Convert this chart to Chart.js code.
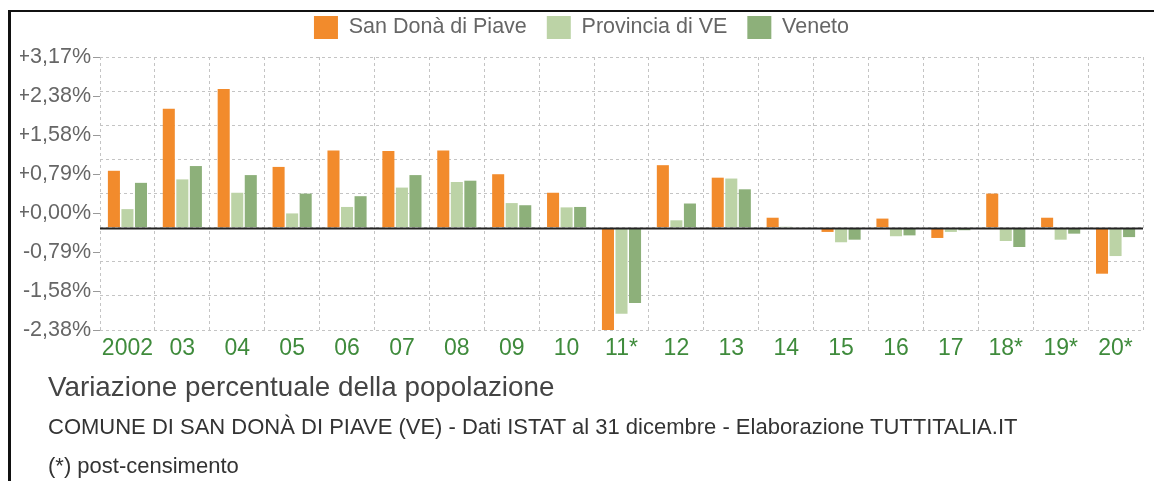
<!DOCTYPE html>
<html>
<head>
<meta charset="utf-8">
<script src="https://cdn.jsdelivr.net/npm/chart.js@4/dist/chart.umd.min.js"></script>
<style>
  body { margin: 0; background: #fff; font-family: "Liberation Sans", Arial, sans-serif; }
  #wrap { position: relative; width: 1154px; height: 481px; overflow: hidden; }
  #grafico { position: absolute; left: 0; top: 0; }
  .frame { position: absolute; left: 8px; top: 10px; width: 1200px; height: 500px;
           border-top: 2px solid #111; border-left: 3px solid #111; pointer-events: none; }
  .txt { position: absolute; left: 48px; white-space: nowrap; line-height: 1; }
  #titolo { top: 373px; font-size: 27.8px; color: #444; }
  #sottotitolo { top: 416px; font-size: 22px; color: #333; }
  #nota { top: 455px; font-size: 22px; color: #333; }
</style>
</head>
<body>
<div id="wrap">
  <canvas id="grafico" width="1154" height="365"></canvas>
  <div class="frame"></div>
  <div class="txt" id="titolo">Variazione percentuale della popolazione</div>
  <div class="txt" id="sottotitolo">COMUNE DI SAN DONÀ DI PIAVE (VE) - Dati ISTAT al 31 dicembre - Elaborazione TUTTITALIA.IT</div>
  <div class="txt" id="nota">(*) post-censimento</div>
</div>
<script>
const anni = ['2002', '03', '04', '05', '06', '07', '08', '09', '10', '11*',
              '12', '13', '14', '15', '16', '17', '18*', '19*', '20*'];
const sanDona = [1.32, 2.76, 3.22, 1.41, 1.79, 1.78, 1.79, 1.24, 0.81, -2.50,
                 1.45, 1.16, 0.23, -0.10, 0.21, -0.24, 0.79, 0.23, -1.07];
const provinciaVE = [0.43, 1.12, 0.81, 0.33, 0.48, 0.93, 1.06, 0.57, 0.47, -2.00,
                     0.17, 1.14, 0.02, -0.34, -0.20, -0.10, -0.31, -0.28, -0.66];
const veneto = [1.04, 1.43, 1.22, 0.79, 0.73, 1.22, 1.09, 0.52, 0.48, -1.75,
                0.56, 0.89, 0.00, -0.28, -0.18, -0.06, -0.45, -0.14, -0.22];
const yTickLabels = ['+3,17%', '+2,38%', '+1,58%', '+0,79%', '+0,00%', '-0,79%', '-1,58%', '-2,38%'];
const passo = 0.7925;

const font = 'Liberation Sans, Arial, sans-serif';

// linea dello zero nera
const lineaZero = {
    id: 'lineaZero',
    afterDatasetsDraw(chart) {
        const ctx = chart.ctx;
        const area = chart.chartArea;
        const y = Math.round(chart.scales.y.getPixelForValue(0)) + 0.5;
        ctx.save();
        ctx.strokeStyle = '#222';
        ctx.lineWidth = 2;
        ctx.beginPath();
        ctx.moveTo(area.left, y);
        ctx.lineTo(area.right, y);
        ctx.stroke();
        ctx.restore();
    }
};

// spazio extra sotto la legenda
const spazioLegenda = {
    id: 'spazioLegenda',
    beforeInit(chart) {
        const fit = chart.legend.fit;
        chart.legend.fit = function () {
            fit.bind(chart.legend)();
            this.height += 8;
        };
    }
};

const grafico = document.getElementById('grafico');

new Chart(grafico, {
    type: 'bar',
    data: {
        labels: anni,
        datasets: [{
            label: 'San Donà di Piave',
            data: sanDona,
            backgroundColor: '#f28b2c'
        }, {
            label: 'Provincia di VE',
            data: provinciaVE,
            backgroundColor: '#bcd3a6'
        }, {
            label: 'Veneto',
            data: veneto,
            backgroundColor: '#8db07a'
        }]
    },
    options: {
        responsive: false,
        animation: false,
        layout: {
            padding: { left: 20, right: 11, top: -4, bottom: 0 }
        },
        datasets: {
            bar: {
                categoryPercentage: 0.74,
                barPercentage: 0.89
            }
        },
        plugins: {
            legend: {
                position: 'top',
                labels: {
                    boxWidth: 24,
                    boxHeight: 23,
                    padding: 20,
                    color: '#666',
                    font: { family: font, size: 21.5 }
                }
            },
            tooltip: { enabled: false }
        },
        scales: {
            x: {
                grid: {
                    color: '#c4c4c4',
                    drawTicks: false
                },
                border: { display: false, dash: [3, 3] },
                ticks: {
                    color: '#3f8b3c',
                    padding: 5,
                    maxRotation: 0,
                    minRotation: 0,
                    autoSkip: false,
                    font: { family: font, size: 23 }
                },
                afterFit(s) { s.height = 35; }
            },
            y: {
                position: 'left',
                min: -3 * passo,
                max: 5 * passo,
                ticks: { display: false, stepSize: passo },
                grid: {
                    color: '#c4c4c4',
                    drawTicks: false
                },
                border: { display: false, dash: [3, 3] },
                afterFit(s) { s.width = 0; }
            },
            y2: {
                position: 'left',
                min: 0,
                max: yTickLabels.length - 1,
                ticks: {
                    stepSize: 1,
                    padding: 2,
                    color: '#666',
                    font: { family: font, size: 21.5 },
                    callback: (v) => yTickLabels[yTickLabels.length - 1 - v]
                },
                grid: {
                    drawOnChartArea: false,
                    drawTicks: true,
                    tickLength: 7,
                    tickColor: '#999'
                },
                border: { display: false },
                afterFit(s) { s.width = 80; }
            }
        }
    },
    plugins: [lineaZero, spazioLegenda]
});
</script>
</body>
</html>
